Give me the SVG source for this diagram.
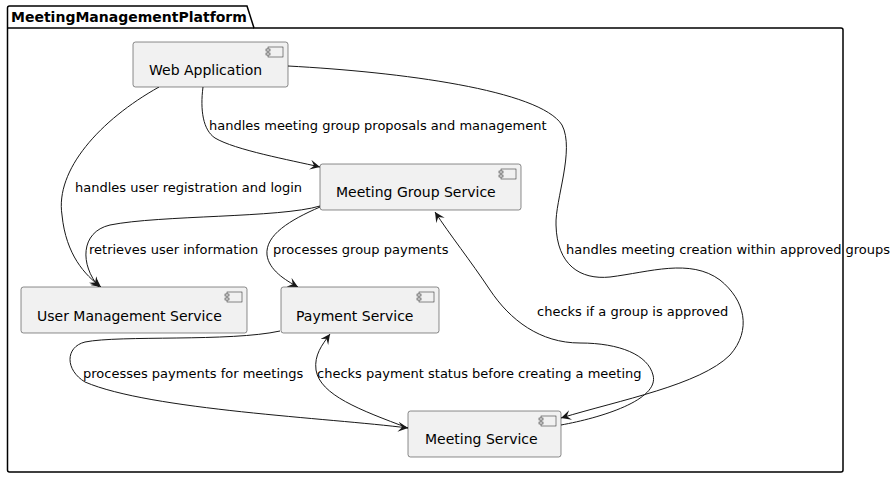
<svg xmlns="http://www.w3.org/2000/svg" width="896" height="479" viewBox="0 0 896 479">
<defs>
<style>
.box{fill:#F1F1F1;stroke:#181818;stroke-width:0.5}
.icon{fill:#F1F1F1;stroke:#181818;stroke-width:0.5}
.name{font-family:"DejaVu Sans",sans-serif;font-size:14px;fill:#000}
.lbl{font-family:"DejaVu Sans",sans-serif;font-size:13px;fill:#000}
.edge{fill:none;stroke:#181818;stroke-width:1;marker-end:url(#arr)}
</style>
<marker id="arr" viewBox="0 0 10 10" refX="10" refY="5" markerWidth="10" markerHeight="10" markerUnits="userSpaceOnUse" orient="auto">
<path d="M10,5 L0,0 L4,5 L0,10 Z" fill="#181818"/>
</marker>
</defs>
<rect width="896" height="479" fill="#fff"/>
<g id="package">
<path d="M7.5,8 Q7.5,6 9.5,6 L247,6 L254,28 L841,28 Q843,28 843,30 L843,470 Q843,472 841,472 L9.5,472 Q7.5,472 7.5,470 Z" fill="none" stroke="#000" stroke-width="1.5"/>
<line x1="7.5" y1="28" x2="254" y2="28" stroke="#000" stroke-width="1.5"/>
<text x="11" y="22" font-family="DejaVu Sans,sans-serif" font-size="14" font-weight="bold">MeetingManagementPlatform</text>
</g>
<g id="connectors">
<path class="edge" d="M159,87 C100,120 55,170 62,215 C66,255 85,275 101,287"/>
<path class="edge" d="M203,87 C200,110 203,130 215,138 C235,150 290,160 320,167"/>
<path class="edge" d="M288,66 C400,72 540,90 562,125 C575,150 555,200 556,225 C557,265 580,280 610,277 C650,272 690,258 720,280 C745,300 752,330 730,355 C700,385 620,400 561,418"/>
<path class="edge" d="M320,206 C280,218 160,215 110,225 C80,232 80,265 99,287"/>
<path class="edge" d="M320,207 C290,220 265,235 267,255 C269,270 285,280 298,287"/>
<path class="edge" d="M280,331 C230,342 120,335 85,342 C65,347 65,370 85,382 C150,410 330,418 408,428"/>
<path class="edge" d="M408,428 C360,410 320,395 316,370 C314,355 322,345 330,334"/>
<path class="edge" d="M561,425 C600,418 660,400 653,375 C648,355 620,343 580,343 C540,343 510,320 490,290 C470,260 450,235 435,212"/>
<text class="lbl" x="75" y="192">handles user registration and login</text>
<text class="lbl" x="209" y="130">handles meeting group proposals and management</text>
<text class="lbl" x="566" y="254">handles meeting creation within approved groups</text>
<text class="lbl" x="89" y="254">retrieves user information</text>
<text class="lbl" x="273" y="254">processes group payments</text>
<text class="lbl" x="83" y="378">processes payments for meetings</text>
<text class="lbl" x="317" y="378">checks payment status before creating a meeting</text>
<text class="lbl" x="537" y="316">checks if a group is approved</text>
</g>
<g id="webapp">
<rect class="box" x="133" y="42" width="155" height="45" rx="2.5"/>
<rect class="icon" x="268" y="47" width="15" height="10"/><rect class="icon" x="266" y="49" width="4" height="2"/><rect class="icon" x="266" y="53" width="4" height="2"/>
<text class="name" x="149" y="75">Web Application</text>
</g>
<g id="meetinggroup">
<rect class="box" x="320" y="164" width="201" height="46" rx="2.5"/>
<rect class="icon" x="501" y="169" width="15" height="10"/><rect class="icon" x="499" y="171" width="4" height="2"/><rect class="icon" x="499" y="175" width="4" height="2"/>
<text class="name" x="336" y="197">Meeting Group Service</text>
</g>
<g id="usermgmt">
<rect class="box" x="21" y="287" width="226" height="46" rx="2.5"/>
<rect class="icon" x="227" y="292" width="15" height="10"/><rect class="icon" x="225" y="294" width="4" height="2"/><rect class="icon" x="225" y="298" width="4" height="2"/>
<text class="name" x="37" y="321">User Management Service</text>
</g>
<g id="payment">
<rect class="box" x="281" y="287" width="158" height="46" rx="2.5"/>
<rect class="icon" x="419" y="292" width="15" height="10"/><rect class="icon" x="417" y="294" width="4" height="2"/><rect class="icon" x="417" y="298" width="4" height="2"/>
<text class="name" x="296" y="321">Payment Service</text>
</g>
<g id="meeting">
<rect class="box" x="408" y="411" width="153" height="46" rx="2.5"/>
<rect class="icon" x="541" y="416" width="15" height="10"/><rect class="icon" x="539" y="418" width="4" height="2"/><rect class="icon" x="539" y="422" width="4" height="2"/>
<text class="name" x="425" y="444">Meeting Service</text>
</g>
</svg>
